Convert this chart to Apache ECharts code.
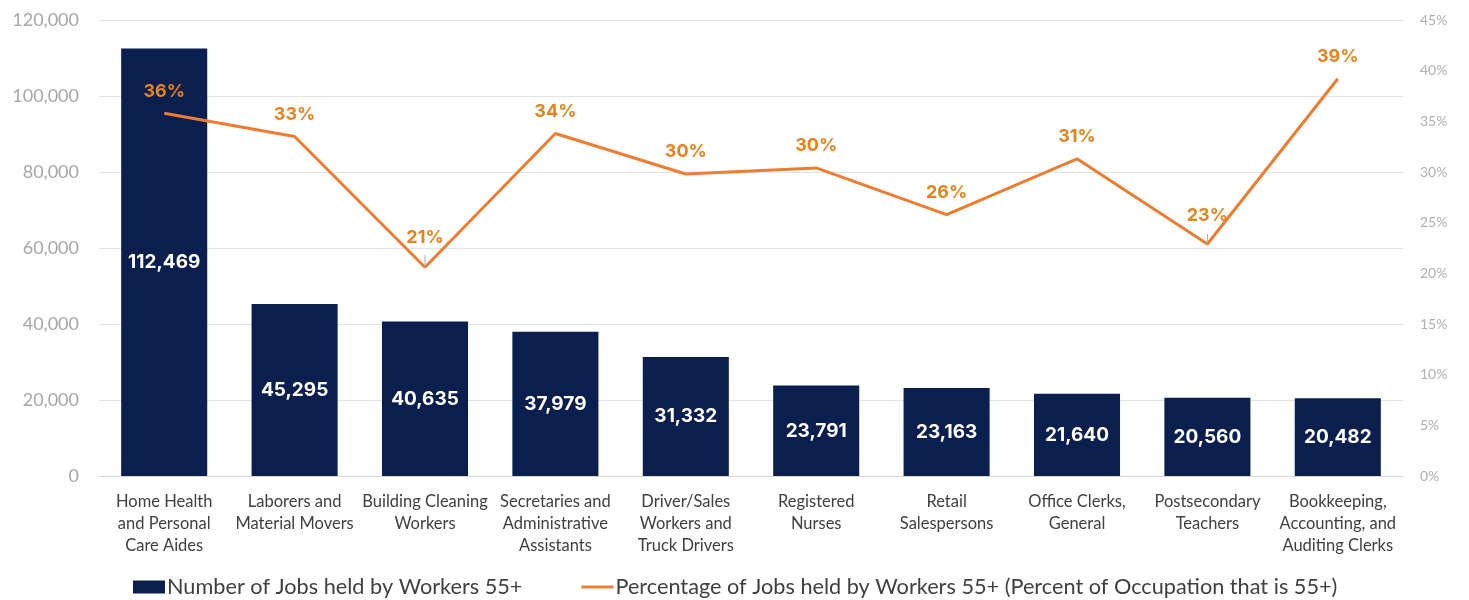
<!DOCTYPE html>
<html>
<head>
<meta charset="utf-8">
<script src="https://cdn.jsdelivr.net/npm/echarts@6/dist/echarts.min.js"></script>
<style>
  html, body { margin: 0; padding: 0; background: #fff; }
  #chart { width: 1469px; height: 600px; }
</style>
</head>
<body>
<div id="chart"></div>
<script>
// occupations (x axis)
const categories = [
  'Home Health\nand Personal\nCare Aides',
  'Laborers and\nMaterial Movers',
  'Building Cleaning\nWorkers',
  'Secretaries and\nAdministrative\nAssistants',
  'Driver/Sales\nWorkers and\nTruck Drivers',
  'Registered\nNurses',
  'Retail\nSalespersons',
  'Office Clerks,\nGeneral',
  'Postsecondary\nTeachers',
  'Bookkeeping,\nAccounting, and\nAuditing Clerks'
]
// jobs held by workers 55+
const jobs = [112469, 45295, 40635, 37979, 31332, 23791, 23163, 21640, 20560, 20482]
// percent of occupation that is 55+
const pct = [35.8, 33.5, 20.6, 33.8, 29.8, 30.4, 25.8, 31.3, 22.9, 39.2]
const pctLabels = ['36%', '33%', '21%', '34%', '30%', '30%', '26%', '31%', '23%', '39%']

const barName = 'Number of Jobs held by Workers 55+'
const lineName = 'Percentage of Jobs held by Workers 55+ (Percent of Occupation that is 55+)'

// the two V-bottom labels sit a bit higher, with a thin leader line
const lifted = { 2: 21, 8: 19 }
const lineData = pct.map((v, i) => {
  if (!lifted[i]) return v
  return {
    value: v,
    label: { distance: lifted[i] },
    labelLine: { show: true, lineStyle: { color: '#a0a8b8', width: 1 } }
  }
})

const chart = echarts.init(document.getElementById('chart'))
chart.setOption({
  animation: false,
  grid: { left: 99, right: 66, top: 20, bottom: 124 },
  legend: {
    left: 128,
    top: 571,
    itemGap: 59,
    itemWidth: 32,
    itemHeight: 13,
    textStyle: { color: '#404040', fontSize: 21.7, fontFamily: 'Lato', padding: [0, 0, 0, -3] },
    data: [
      { name: barName, icon: 'rect' },
      // thin line icon, tiny corner marks keep the box 32x13
      { name: lineName, icon: 'path://M0,0H0.01V0.01H0Z M0,5H32V8H0Z M31.99,12.99H32V13H31.99Z' }
    ]
  },
  xAxis: {
    type: 'category',
    data: categories,
    axisTick: { show: false },
    axisLine: { lineStyle: { color: '#d9d9d9' } },
    axisLabel: {
      color: '#404040',
      fontSize: 16.5,
      fontFamily: 'Lato',
      lineHeight: 22,
      margin: 15,
      interval: 0
    }
  },
  yAxis: [
    {
      type: 'value',
      min: 0,
      max: 120000,
      interval: 20000,
      axisLine: { show: false },
      axisTick: { show: false },
      splitLine: { lineStyle: { color: '#e3e3e3' } },
      axisLabel: {
        color: '#a6a6a6',
        fontSize: 18,
        fontFamily: 'Lato',
        margin: 20,
        formatter: v => v.toLocaleString('en-US')
      }
    },
    {
      type: 'value',
      min: 0,
      max: 45,
      interval: 5,
      axisLine: { show: false },
      axisTick: { show: false },
      splitLine: { show: false },
      axisLabel: {
        color: '#b0b0b0',
        fontSize: 14,
        fontFamily: 'Lato',
        margin: 17,
        formatter: '{value}%'
      }
    }
  ],
  series: [
    {
      name: barName,
      type: 'bar',
      data: jobs,
      barWidth: '66%',
      itemStyle: { color: '#0b1f4f' },
      label: {
        show: true,
        position: 'inside',
        color: '#ffffff',
        fontSize: 19,
        fontWeight: 'bold',
        fontFamily: 'Inter',
        formatter: p => p.value.toLocaleString('en-US')
      }
    },
    {
      name: lineName,
      type: 'line',
      yAxisIndex: 1,
      data: lineData,
      symbol: 'circle',
      symbolSize: 0.1,
      showSymbol: true,
      lineStyle: { color: '#ed7d31', width: 3 },
      itemStyle: { color: '#ed7d31' },
      label: {
        show: true,
        position: 'top',
        distance: 13,
        color: '#e5831f',
        fontSize: 18,
        fontWeight: 'bold',
        fontFamily: 'Inter',
        formatter: p => pctLabels[p.dataIndex]
      }
    }
  ]
})
</script>
</body>
</html>
